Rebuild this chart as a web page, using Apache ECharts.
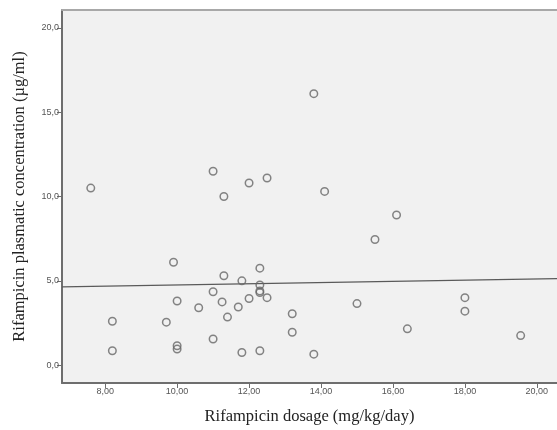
<!DOCTYPE html>
<html>
<head>
<meta charset="utf-8">
<script src="https://cdn.jsdelivr.net/npm/echarts@6/dist/echarts.min.js"></script>
<style>html,body{margin:0;padding:0;background:#fff}#c{width:557px;height:430px}</style>
</head>
<body>
<div id="c"></div>
<script>
// Rifampicin dosage (mg/kg/day)
const dosage = [7.6, 8.2, 8.2, 9.7, 9.9, 10.0, 10.0, 10.0, 10.6, 11.0, 11.0, 11.0, 11.25, 11.3, 11.3, 11.4, 11.7, 11.8, 11.8, 12.0, 12.0, 12.3, 12.3, 12.3, 12.3, 12.3, 12.5, 12.5, 13.2, 13.2, 13.8, 13.8, 14.1, 15.0, 15.5, 16.1, 16.4, 18.0, 18.0, 19.55];
// Rifampicin plasmatic concentration (µg/ml)
const concentration = [10.5, 2.6, 0.85, 2.55, 6.1, 3.8, 1.15, 0.95, 3.4, 11.5, 4.35, 1.55, 3.75, 10.0, 5.3, 2.85, 3.45, 5.0, 0.75, 10.8, 3.95, 5.75, 4.75, 4.4, 4.3, 0.85, 11.1, 4.0, 3.05, 1.95, 16.1, 0.65, 10.3, 3.65, 7.45, 8.9, 2.15, 4.0, 3.2, 1.75];
// Fit line end points
const fitX = [6.8, 20.56];
const fitY = [4.64, 5.13];
const xTicks = [8, 10, 12, 14, 16, 18, 20];
const yTicks = [0, 5, 10, 15, 20];

const points = dosage.map((d, i) => [d, concentration[i]]);
const fit = fitX.map((x, i) => [x, fitY[i]]);

const chart = echarts.init(document.getElementById('c'), null, {renderer: 'canvas'});
const tickLbl = {color: '#555', fontSize: 9, fontFamily: 'Liberation Sans, Arial, sans-serif'};
chart.setOption({
  animation: false,
  grid: {left: 62, top: 10, right: 0, bottom: 45, show: true, backgroundColor: '#f1f1f1', borderWidth: 0},
  xAxis: [{
    type: 'value', min: 6.8, max: 20.56,
    name: 'Rifampicin dosage (mg/kg/day)', nameLocation: 'middle', nameGap: 25,
    nameTextStyle: {fontFamily: 'Liberation Serif, Times New Roman, serif', fontSize: 16.5, color: '#222'},
    axisLine: {show: true, onZero: false, lineStyle: {color: '#6e6e6e', width: 2}},
    axisTick: {show: true, length: 5, customValues: xTicks, lineStyle: {color: '#6e6e6e'}},
    axisLabel: Object.assign({customValues: xTicks, margin: 4, formatter: v => v.toFixed(2).replace('.', ',')}, tickLbl),
    splitLine: {show: false}
  }, {
    type: 'value', position: 'top', min: 6.8, max: 20.56,
    axisLine: {show: true, onZero: false, lineStyle: {color: '#a8a8a8', width: 2}},
    axisTick: {show: false}, axisLabel: {show: false}, splitLine: {show: false}
  }],
  yAxis: {
    type: 'value', min: -1.06, max: 21.06,
    name: 'Rifampicin plasmatic concentration (µg/ml)', nameLocation: 'middle', nameGap: 34,
    nameTextStyle: {fontFamily: 'Liberation Serif, Times New Roman, serif', fontSize: 16.5, color: '#222'},
    axisLine: {show: true, onZero: false, lineStyle: {color: '#6e6e6e', width: 2}},
    axisTick: {show: true, length: 5, customValues: yTicks, lineStyle: {color: '#6e6e6e'}},
    axisLabel: Object.assign({customValues: yTicks, margin: 3, formatter: v => v.toFixed(1).replace('.', ',')}, tickLbl),
    splitLine: {show: false}
  },
  series: [{
    type: 'line', data: fit, showSymbol: false, symbol: 'none',
    lineStyle: {color: '#5a5a5a', width: 1.2}, silent: true, z: 2
  }, {
    type: 'scatter', data: points, symbol: 'circle', symbolSize: 7.5,
    itemStyle: {color: 'rgba(0,0,0,0)', borderColor: '#666', borderWidth: 1.5}, z: 3
  }]
});
</script>
</body>
</html>
